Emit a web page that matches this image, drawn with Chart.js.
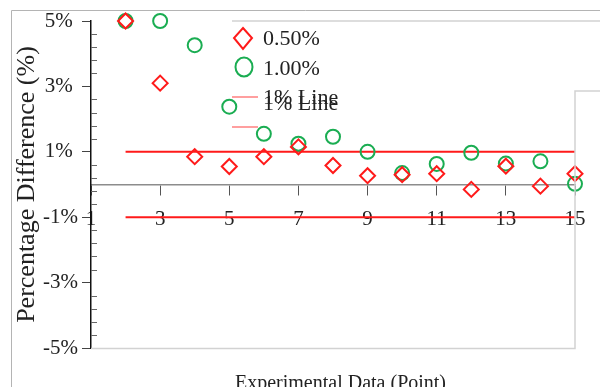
<!DOCTYPE html>
<html>
<head>
<meta charset="utf-8">
<script src="https://cdn.jsdelivr.net/npm/chart.js"></script>
<style>
  html, body { margin: 0; padding: 0; background: #fff; }
  #wrap { width: 600px; height: 387px; }
</style>
</head>
<body>
<div id="wrap"><canvas id="chart"></canvas></div>
<script>
// experimental points (x) and percentage differences (y)
const pointIds = [2, 3, 4, 5, 6, 7, 8, 9, 10, 11, 12, 13, 14, 15];
const diff050 = [5.0, 3.1, 0.85, 0.55, 0.85, 1.15, 0.58, 0.27, 0.3, 0.33, -0.15, 0.56, -0.05, 0.33];
const diff100 = [5.0, 5.0, 4.26, 2.38, 1.55, 1.25, 1.46, 1.0, 0.35, 0.63, 0.97, 0.64, 0.71, 0.02];
const lineRange = [2, 15];
const lineLevels = [1, -1];
const seriesNames = ['0.50%', '1.00%', '1% Line'];
const yLabelValues = [5, 3, 1, -1, -3, -5];

const serif = "'Liberation Serif', 'Times New Roman', serif";
const RED = '#ff1a1a';
const GREEN = '#1aad52';

const toPoints = (vals) => vals.map((v, i) => ({ x: pointIds[i], y: v }));
const isLabelTick = (v) => yLabelValues.some(t => Math.abs(t - v) < 1e-6);

// inward minor ticks on y axis, frame lines, legend
const decor = {
  id: 'decor',
  afterDraw(chart) {
    const { ctx, chartArea: a, scales } = chart;
    const y = scales.y;
    ctx.save();
    // minor ticks point into the plot
    ctx.strokeStyle = '#666';
    ctx.lineWidth = 1;
    y.ticks.forEach(t => {
      if (isLabelTick(t.value)) return;
      const py = Math.round(y.getPixelForValue(t.value)) + 0.5;
      ctx.beginPath();
      ctx.moveTo(a.left, py);
      ctx.lineTo(a.left + 6, py);
      ctx.stroke();
    });
    // frame lines
    ctx.strokeStyle = '#d2d2d2';
    ctx.lineWidth = 1.5;
    ctx.beginPath();
    ctx.moveTo(a.left, a.bottom + 0.5);
    ctx.lineTo(a.right, a.bottom + 0.5);
    ctx.lineTo(a.right, 91);
    ctx.lineTo(600, 91);
    ctx.moveTo(232, a.top);
    ctx.lineTo(600, a.top);
    ctx.stroke();
    ctx.strokeStyle = '#b4b4b4';
    ctx.lineWidth = 1;
    ctx.beginPath();
    ctx.moveTo(11.5, 387);
    ctx.lineTo(11.5, 10.5);
    ctx.lineTo(600, 10.5);
    ctx.stroke();

    // legend
    ctx.lineWidth = 2;
    ctx.strokeStyle = RED;
    ctx.beginPath();
    ctx.moveTo(243, 28); ctx.lineTo(252, 38); ctx.lineTo(243, 49); ctx.lineTo(234, 38);
    ctx.closePath();
    ctx.stroke();
    ctx.strokeStyle = GREEN;
    ctx.beginPath();
    ctx.ellipse(244, 67, 8.5, 9.5, 0, 0, Math.PI * 2);
    ctx.stroke();
    ctx.strokeStyle = 'rgba(255,80,80,0.55)';
    ctx.beginPath();
    ctx.moveTo(232, 97); ctx.lineTo(258, 97);
    ctx.moveTo(232, 127); ctx.lineTo(258, 127);
    ctx.stroke();
    ctx.fillStyle = '#222';
    ctx.font = '22px ' + serif;
    ctx.textBaseline = 'middle';
    ctx.textAlign = 'left';
    ctx.fillText(seriesNames[0], 263, 39);
    ctx.fillText(seriesNames[1], 263, 69);
    ctx.fillText(seriesNames[2], 263, 98);
    ctx.fillText(seriesNames[2], 263, 104);
    ctx.restore();
  }
};

const datasets = [
  {
    label: seriesNames[0], data: toPoints(diff050),
    pointStyle: 'rectRot', pointRadius: 7.5, pointBorderWidth: 2,
    borderColor: RED, backgroundColor: 'rgba(0,0,0,0)', clip: false, order: 1
  },
  {
    label: seriesNames[1], data: toPoints(diff100),
    pointStyle: 'circle', pointRadius: 7, pointBorderWidth: 2,
    borderColor: GREEN, backgroundColor: 'rgba(0,0,0,0)', clip: false, order: 2
  }
].concat(lineLevels.map(lv => ({
  type: 'line', label: seriesNames[2],
  data: lineRange.map(x => ({ x: x, y: lv })),
  borderColor: RED, borderWidth: 2, pointRadius: 0, fill: false, order: 3
})));

new Chart(document.getElementById('chart'), {
  type: 'scatter',
  data: { datasets: datasets },
  plugins: [decor],
  options: {
    responsive: true,
    maintainAspectRatio: false,
    animation: false,
    layout: { padding: { top: 21, right: 25, left: 0, bottom: -9 } },
    plugins: {
      legend: { display: false },
      tooltip: { enabled: false },
      title: {
        display: true, position: 'bottom', fullSize: false,
        text: '   Experimental Data (Point)',
        color: '#222', font: { family: serif, size: 20, weight: 'normal', lineHeight: 1.2 },
        padding: { top: 24, bottom: 0 }
      }
    },
    scales: {
      x: {
        type: 'linear', min: 1, max: 15,
        position: { y: 0 },
        ticks: { stepSize: 2, color: '#222', padding: 12, font: { family: serif, size: 21 } },
        grid: { drawOnChartArea: false, tickLength: 10, tickColor: '#555' },
        border: { color: '#8c8c8c', width: 1.5 }
      },
      y: {
        min: -5, max: 5,
        afterFit(scale) { scale.width = 91; },
        ticks: {
          stepSize: 0.4, autoSkip: false, color: '#222', padding: 4,
          font: { family: serif, size: 21 },
          callback: (v) => {
            if (!isLabelTick(v)) return '';
            const r = Math.round(v);
            return r > 0 ? r + '% ' : r + '%';
          }
        },
        grid: {
          drawOnChartArea: false, tickLength: 9,
          tickColor: (c) => (c.tick && isLabelTick(c.tick.value)) ? '#444' : 'rgba(0,0,0,0)'
        },
        border: { color: '#111', width: 1.5 },
        title: {
          display: true, text: 'Percentage Difference (%)', color: '#222',
          font: { family: serif, size: 26 }, padding: { top: 12, bottom: 0 }
        }
      }
    }
  }
});
</script>
</body>
</html>
